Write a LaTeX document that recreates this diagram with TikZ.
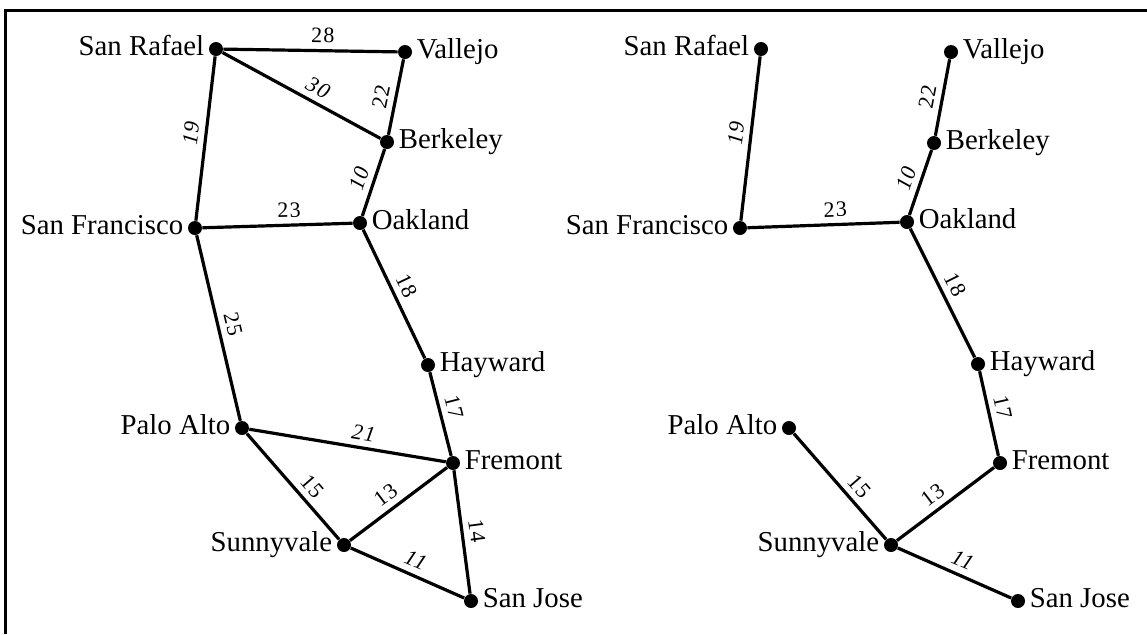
\documentclass[tikz,border=0pt]{standalone}
\usepackage{fontspec}
\setmainfont{Liberation Serif}
\newfontfamily\wtfont[LetterSpace=6]{Liberation Serif}
\usepackage{tikz}

\begin{document}
\begin{tikzpicture}[
		x=0.5pt, y=-0.5pt,
		city/.style={
			circle,
			fill,
			inner sep=0pt,
			minimum size=7pt,
			label distance=0pt
		},
		citylabel/.style={
			font=\fontsize{14.4}{16}\selectfont,
			inner sep=2pt,
			text height=0.66em,
			text depth=0.04em
		},
		road/.style={line width=1.6pt},
		wt/.style={
			font=\wtfont\fontsize{11}{12}\selectfont,
			sloped,
			above,
			inner sep=3pt
		},
		wti/.style={wt, font=\wtfont\itshape\fontsize{11}{12}\selectfont}
		]
		\useasboundingbox (0,0) rectangle (1147,634);
		
		% frame
		\draw[line width=1.5pt] (5,634) -- (5,10) -- (1147,10);
		
		% Road network
		\node[city, label={[citylabel]left:San Rafael}] (sr) at (216,49) {};
		\node[city, label={[citylabel]right:Vallejo}] (va) at (405,52) {};
		\node[city, label={[citylabel]right:Berkeley}] (be) at (387,142) {};
		\node[city, label={[citylabel]right:Oakland}] (oa) at (360,223) {};
		\node[city, label={[citylabel]left:San Francisco}] (sf) at (195,228) {};
		\node[city, label={[citylabel]right:Hayward}] (ha) at (428,365) {};
		\node[city, label={[citylabel]left:Palo Alto}] (pa) at (242,428) {};
		\node[city, label={[citylabel]right:Fremont}] (fr) at (453,463) {};
		\node[city, label={[citylabel]left:Sunnyvale}] (sv) at (344,545) {};
		\node[city, label={[citylabel]right:San Jose}] (sj) at (471,601) {};
		
		\draw[road] (sr) -- node[wt, pos=0.57] {28} (va);
		\draw[road] (sr) -- node[wti, pos=0.56] {30} (be);
		\draw[road] (be) -- node[wt, pos=0.47] {22} (va);
		\draw[road] (sf) -- node[wti, pos=0.52] {19} (sr);
		\draw[road] (oa) -- node[wti, pos=0.49] {10} (be);
		\draw[road] (sf) -- node[wt, pos=0.58] {23} (oa);
		\draw[road] (oa) -- node[wt, pos=0.49] {18} (ha);
		\draw[road] (sf) -- node[wt, pos=0.5] {25} (pa);
		\draw[road] (ha) -- node[wt, pos=0.46] {17} (fr);
		\draw[road] (pa) -- node[wti, pos=0.57] {21} (fr);
		\draw[road] (pa) -- node[wt, pos=0.59] {15} (sv);
		\draw[road] (sv) -- node[wt, pos=0.46] {13} (fr);
		\draw[road] (fr) -- node[wt, pos=0.51] {14} (sj);
		\draw[road] (sv) -- node[wti, pos=0.52] {11} (sj);
		
		% Spanning tree
		\node[city, label={[citylabel]left:San Rafael}] (tsr) at (761,49) {};
		\node[city, label={[citylabel]right:Vallejo}] (tva) at (951,52) {};
		\node[city, label={[citylabel]right:Berkeley}] (tbe) at (934,143) {};
		\node[city, label={[citylabel]right:Oakland}] (toa) at (907,222) {};
		\node[city, label={[citylabel]left:San Francisco}] (tsf) at (740,228) {};
		\node[city, label={[citylabel]right:Hayward}] (tha) at (978,364) {};
		\node[city, label={[citylabel]left:Palo Alto}] (tpa) at (789,428) {};
		\node[city, label={[citylabel]right:Fremont}] (tfr) at (1000,463) {};
		\node[city, label={[citylabel]left:Sunnyvale}] (tsv) at (891,545) {};
		\node[city, label={[citylabel]right:San Jose}] (tsj) at (1018,601) {};
		
		\draw[road] (tsf) -- node[wti, pos=0.52] {19} (tsr);
		\draw[road] (tbe) -- node[wt, pos=0.47] {22} (tva);
		\draw[road] (toa) -- node[wti, pos=0.49] {10} (tbe);
		\draw[road] (tsf) -- node[wt, pos=0.58] {23} (toa);
		\draw[road] (toa) -- node[wt, pos=0.49] {18} (tha);
		\draw[road] (tha) -- node[wt, pos=0.46] {17} (tfr);
		\draw[road] (tsv) -- node[wt, pos=0.46] {13} (tfr);
		\draw[road] (tpa) -- node[wt, pos=0.59] {15} (tsv);
		\draw[road] (tsv) -- node[wti, pos=0.52] {11} (tsj);
		
	\end{tikzpicture}
\end{document}
